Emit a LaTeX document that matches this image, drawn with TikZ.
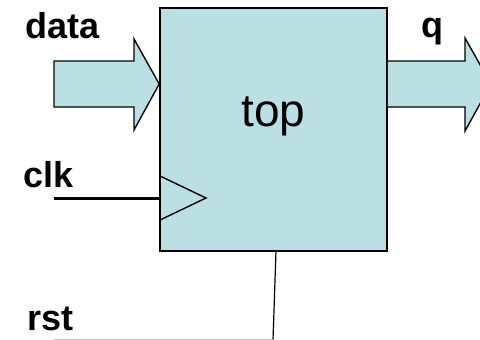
\documentclass[tikz,border=0pt]{standalone}
\usepackage{fontspec}
\setmainfont{Liberation Sans}
\definecolor{blockfill}{HTML}{BBE0E3}
\definecolor{faintline}{HTML}{C8C8C8}
\begin{document}
\begin{tikzpicture}[x=1pt,y=-1pt,
  pinlabel/.style={font=\fontsize{36}{40}\selectfont\bfseries, inner sep=0pt, anchor=base west},
  busarrow/.style={draw=black, fill=blockfill, line width=1.4pt, line join=miter},
  blockbox/.style={draw=black, fill=blockfill, line width=1.6pt, inner sep=0pt,
                   minimum width=227pt, minimum height=243pt}]
  \clip (0,0) rectangle (480,340);

  % module body
  \node[blockbox] (top) at (273.5,129.5) {};
  \node[font=\fontsize{46}{50}\selectfont, inner sep=0pt, anchor=base] (toplbl) at (273.5,126) {top};

  % data input bus arrow
  \draw[busarrow] (54,61) -- (134,61) -- (134,39) -- (top.west |- 0,84) -- (134,130)
                  -- (134,107) -- (54,107) -- cycle;
  % q output bus arrow
  \draw[busarrow] (top.east |- 0,61) -- (465,61) -- (465,38) -- (491,84) -- (465,131)
                  -- (465,107) -- (top.east |- 0,107);

  % clock input with edge marker
  \coordinate (clkin) at (54,198);
  \draw[line width=3pt] (clkin) -- (top.west |- clkin);
  \draw[line width=1.4pt, line join=miter] (160,176) -- (206,198) -- (160,220);

  % reset input
  \coordinate (rsttap) at (276,251);
  \coordinate (rstend) at (273,340);
  \draw[line width=1.2pt] (rsttap) -- (rstend);
  \draw[faintline, line width=1pt] (54,339) -- (273,339);

  % pin names
  \node[pinlabel] (datalbl) at (25,38) {data};
  \node[pinlabel] (qlbl) at (421.5,37.5) {q};
  \node[pinlabel] (clklbl) at (23,187) {clk};
  \node[pinlabel] (rstlbl) at (27,330) {rst};
\end{tikzpicture}
\end{document}
